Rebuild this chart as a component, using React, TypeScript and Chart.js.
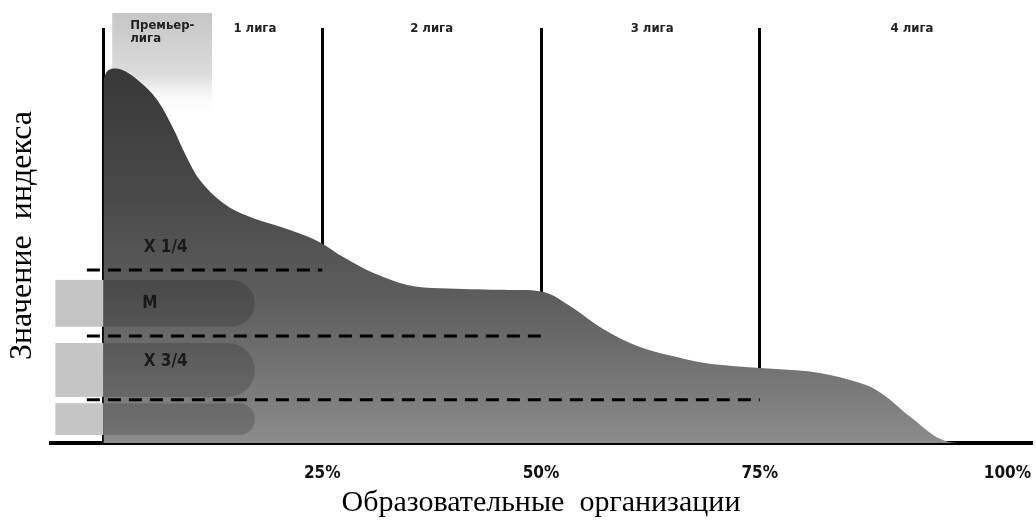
import React, { useEffect, useRef } from "react";
import { Chart, registerables } from "chart.js";

Chart.register(...registerables);

// Share of educational organisations (%) and index value (0..100)
const orgShare = [0, 0.6, 2.0, 4.0, 6.1, 7.9, 9.5, 11.0, 13.7, 16.7, 21.3, 24.7, 27.4, 30.8, 34.7, 38.5, 45.3, 50.3, 53.1, 57.1, 61.0, 64.9, 68.7, 75.0, 80.5, 84.4, 88.3, 92.2, 94.9, 96.5, 97.6];
const indexValue = [87.8, 89.9, 90.0, 87.3, 82.8, 76.1, 68.9, 63.4, 57.8, 54.5, 51.3, 48.4, 44.8, 41.0, 38.1, 37.3, 36.9, 36.4, 33.3, 27.5, 23.4, 21.0, 19.3, 18.1, 17.3, 15.7, 12.8, 6.3, 1.8, 0.3, 0];

const leagueBounds = [0, 25, 50, 75];
const xTickValues = [-6, 0, 25, 50, 75, 106];
const xTickLabels = ["", "", "25%", "50%", "75%", "100%"];

const leagueNames = ["1 лига", "2 лига", "3 лига", "4 лига"];
const leagueNameX = [17.3, 37.5, 62.7, 92.4];
const premierLabel = ["Премьер-", "лига"];
const premierRange = [1, 12.4];
const premierBoxY = [103.6, 79];

const quartileNames = ["X 1/4", "M", "X 3/4"];
const quartileValues = [41.7, 25.8, 10.4];
const quartileEnds = [25, 50, 75];
const quartileLabelX = [7.1, 5.3, 7.1];
const quartileLabelY = [47, 33.7, 19.5];
const dashStart = -1.9;

const bandTops = [39.3, 24.1, 9.6];
const bandBottoms = [28.0, 11.1, 1.9];
const bandLightStart = -5.5;
const bandDarkEnd = 17.3;

const NARROW = '"Liberation Sans Narrow", "DejaVu Sans Condensed", "Roboto", sans-serif';

const decor = {
  id: "decor",
  beforeDatasetsDraw(chart: any) {
    const { ctx, scales } = chart;
    const x = scales.x, y = scales.y;
    const x0 = x.getPixelForValue(premierRange[0]);
    const x1 = x.getPixelForValue(premierRange[1]);
    const yT = y.getPixelForValue(premierBoxY[0]);
    const yB = y.getPixelForValue(premierBoxY[1]);
    const g = ctx.createLinearGradient(0, yT, 0, yB);
    g.addColorStop(0, "#c6c6c6");
    g.addColorStop(0.6, "#dcdcdc");
    g.addColorStop(1, "rgba(255,255,255,0)");
    ctx.save();
    ctx.fillStyle = g;
    ctx.fillRect(x0, yT, x1 - x0, yB - yT);
    ctx.restore();
  },
  afterDatasetsDraw(chart: any) {
    const { ctx, scales } = chart;
    const x = scales.x, y = scales.y;
    ctx.save();
    for (let i = 0; i < bandTops.length; i++) {
      const yT = y.getPixelForValue(bandTops[i]);
      const yB = y.getPixelForValue(bandBottoms[i]);
      const h = yB - yT;
      const xl = x.getPixelForValue(bandLightStart);
      const x0 = x.getPixelForValue(0);
      const xe = x.getPixelForValue(bandDarkEnd);
      ctx.fillStyle = "#c5c5c5";
      ctx.fillRect(xl, yT, x0 - xl, h);
      const r = h / 2;
      ctx.beginPath();
      ctx.moveTo(x0, yT);
      ctx.lineTo(xe - r, yT);
      ctx.arc(xe - r, yT + r, r, -Math.PI / 2, Math.PI / 2);
      ctx.lineTo(x0, yB);
      ctx.closePath();
      ctx.fillStyle = "rgba(0,0,0,0.17)";
      ctx.fill();
    }
    ctx.restore();
  },
  afterDraw(chart: any) {
    const { ctx, scales } = chart;
    const x = scales.x, y = scales.y;
    ctx.save();
    ctx.strokeStyle = "#000";
    ctx.lineWidth = 3;
    ctx.setLineDash([13, 8]);
    for (let i = 0; i < quartileValues.length; i++) {
      const py = y.getPixelForValue(quartileValues[i]);
      ctx.beginPath();
      ctx.moveTo(x.getPixelForValue(dashStart), py);
      ctx.lineTo(x.getPixelForValue(quartileEnds[i]), py);
      ctx.stroke();
    }
    ctx.setLineDash([]);
    ctx.fillStyle = "#1a1a1a";
    ctx.font = "bold 17px " + NARROW;
    ctx.textAlign = "center";
    ctx.textBaseline = "middle";
    for (let i = 0; i < quartileNames.length; i++) {
      ctx.fillText(quartileNames[i], x.getPixelForValue(quartileLabelX[i]), y.getPixelForValue(quartileLabelY[i]));
    }
    ctx.font = "bold 13px " + NARROW;
    ctx.fillStyle = "#222";
    const top = y.getPixelForValue(100);
    for (let i = 0; i < leagueNames.length; i++) {
      ctx.fillText(leagueNames[i], x.getPixelForValue(leagueNameX[i]), top + 1);
    }
    ctx.textAlign = "left";
    const px = x.getPixelForValue(premierRange[0]) + 18;
    ctx.fillText(premierLabel[0], px, top - 2);
    ctx.fillText(premierLabel[1], px, top + 11);
    ctx.restore();
  },
};

export default function App() {
  const ref = useRef<HTMLCanvasElement>(null);
  useEffect(() => {
    if (!ref.current) return;
    const chart = new Chart(ref.current, {
      type: "line",
      data: {
        datasets: [
          {
            data: orgShare.map((v, i) => ({ x: v, y: indexValue[i] })),
            fill: "origin",
            borderWidth: 0,
            borderColor: "rgba(0,0,0,0)",
            pointRadius: 0,
            tension: 0.35,
            backgroundColor: (c: any) => {
              const ch = c.chart;
              const ca = ch.chartArea;
              if (!ca) return "#666";
              const ys = ch.scales.y;
              const g = ch.ctx.createLinearGradient(0, ys.getPixelForValue(90), 0, ys.getPixelForValue(0));
              g.addColorStop(0, "#383838");
              g.addColorStop(0.35, "#4a4a4a");
              g.addColorStop(0.62, "#5e5e5e");
              g.addColorStop(0.8, "#737373");
              g.addColorStop(1, "#8c8c8c");
              return g;
            },
          },
        ],
      },
      options: {
        responsive: false,
        animation: false,
        devicePixelRatio: 1,
        layout: { padding: { top: 28, right: 5, left: 0, bottom: 0 } },
        plugins: { legend: { display: false }, tooltip: { enabled: false } },
        scales: {
          x: {
            type: "linear",
            min: -6,
            max: 106,
            z: 1,
            afterBuildTicks: (s: any) => {
              s.ticks = xTickValues.map((v) => ({ value: v }));
            },
            ticks: {
              callback: (_v: any, i: number) => xTickLabels[i],
              align: "inner",
              autoSkip: false,
              maxRotation: 0,
              padding: 0,
              color: "#111",
              font: { family: NARROW, size: 17, weight: "bold", lineHeight: 1.2 },
            },
            grid: {
              color: (c: any) => (c.tick && leagueBounds.includes(c.tick.value) ? "#000" : "rgba(0,0,0,0)"),
              lineWidth: 3,
              drawTicks: true,
              tickLength: 20,
              tickColor: "rgba(0,0,0,0)",
            },
            border: { display: true, color: "#000", width: 4 },
            title: {
              display: true,
              text: "Образовательные  организации",
              color: "#000",
              font: { family: '"Liberation Serif", serif', size: 30, lineHeight: 1.2 },
              padding: { top: 1.6, bottom: 1 },
            },
          },
          y: {
            type: "linear",
            min: 0,
            max: 100,
            ticks: { display: false },
            grid: { display: false, drawTicks: false },
            border: { display: false },
            title: {
              display: true,
              text: "Значение  индекса",
              color: "#000",
              font: { family: '"Liberation Serif", serif', size: 32, lineHeight: 1.2 },
              padding: { top: 3, bottom: 9.6 },
            },
          },
        },
      },
      plugins: [decor],
    } as any);
    return () => chart.destroy();
  }, []);
  return (
    <div style={{ position: "absolute", left: 0, top: 0, width: 1036, height: 522, background: "#fff" }}>
      <canvas ref={ref} width={1036} height={522} style={{ display: "block" }} />
    </div>
  );
}
